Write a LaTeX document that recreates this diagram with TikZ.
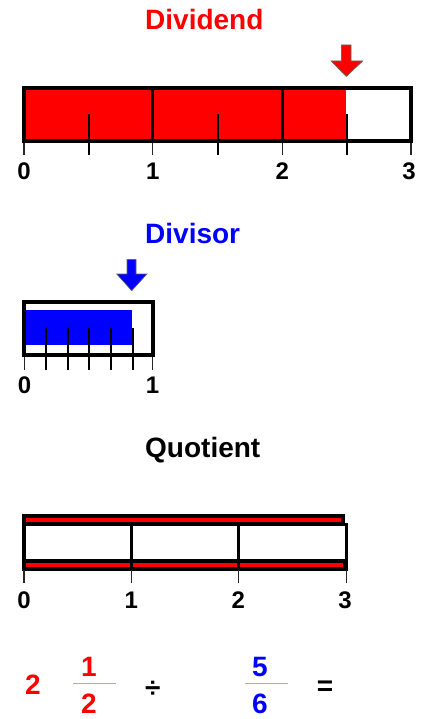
\documentclass[tikz,border=0pt]{standalone}
\usepackage{fontspec}
\setmainfont{Liberation Sans}
\definecolor{fracbar}{RGB}{180,176,160}
\definecolor{pred}{RGB}{255,0,0}
\definecolor{pblue}{RGB}{0,0,255}
\begin{document}
\begin{tikzpicture}[x=1pt,y=-1pt,
  title/.style={font=\fontsize{28}{30}\selectfont\bfseries, anchor=base west, inner sep=0pt},
  num/.style={font=\fontsize{24}{26}\selectfont\bfseries, anchor=base, inner sep=0pt},
  eqtxt/.style={font=\fontsize{28}{30}\selectfont\bfseries, anchor=base, inner sep=0pt},
  opsym/.style={font=\fontsize{28}{30}\selectfont\bfseries, anchor=center, inner sep=0pt},
  frameline/.style={line width=4pt},
  divline/.style={line width=3pt},
  halftick/.style={line width=2pt},
  ticks/.style={line width=1.5pt, black!85},
  arrowshape/.style={draw=black!60, line width=0.6pt, line join=miter},
  fbar/.style={draw=fracbar, line width=1.3pt}
]
\useasboundingbox (0,0) rectangle (423,719);

% ---------------- Dividend ----------------
\node[title, text=pred] (tdividend) at (145,30) {Dividend};
\fill[pred] (24,88) rectangle (346,141.3);
\draw[divline] (152.7,88) -- (152.7,141.3);
\draw[divline] (282.3,88) -- (282.3,141.3);
\foreach \x in {89,218,347} \draw[halftick] (\x,114) -- (\x,155.5);
\foreach \x in {24,152.7,282.3,410.8} \draw[ticks] (\x,141) -- (\x,155.5);
\draw[frameline] (23.9,88) rectangle (410.8,141.3);
\node[num] (d0) at (24,180) {0};
\node[num] (d1) at (152.7,180) {1};
\node[num] (d2) at (282.3,180) {2};
\node[num] (d3) at (409,180) {3};
\filldraw[arrowshape, fill=pred] (341.5,45) -- (351,45) -- (351,61) -- (362.7,61) -- (346.3,76.5) -- (331,61) -- (341.5,61) -- cycle;

% ---------------- Divisor ----------------
\node[title, text=pblue] (tdivisor) at (145,243) {Divisor};
\fill[pblue] (24,310) rectangle (131.7,345);
\foreach \x in {45.7,67.5,89.2,110.9,132.6} \draw[halftick] (\x,328) -- (\x,370);
\foreach \x in {24.3,152.5} \draw[ticks] (\x,355) -- (\x,370);
\draw[frameline] (24.3,302) rectangle (152.5,355.3);
\node[num] (v0) at (24.5,393) {0};
\node[num] (v1) at (152.5,393) {1};
\filldraw[arrowshape, fill=pblue] (127,259.5) -- (136,259.5) -- (136,274) -- (147,274) -- (131.7,290.7) -- (116.7,274) -- (127,274) -- cycle;

% ---------------- Quotient ----------------
\node[title, text=black] (tquotient) at (145,457) {Quotient};
\draw[frameline, fill=pred] (23.8,516.3) rectangle (343,523.7);
\draw[frameline, fill=pred] (23.8,561) rectangle (344.7,568.7);
\draw[frameline] (23.8,516) -- (23.8,569);
\draw[divline] (346.3,523) -- (346.3,570.7);
\draw[divline] (131.3,525) -- (131.3,570.7);
\draw[divline] (238.3,525) -- (238.3,570.7);
\foreach \x in {24,131.3,238.3,346.3} \draw[ticks] (\x,570) -- (\x,583);
\node[num] (q0) at (24,608.3) {0};
\node[num] (q1) at (131.3,608.3) {1};
\node[num] (q2) at (238.3,608.3) {2};
\node[num] (q3) at (345,608.3) {3};

% ---------------- Equation ----------------
\node[eqtxt, text=pred] (whole) at (33,694) {2};
\node[eqtxt, text=pred] (numa) at (89,676) {1};
\node[eqtxt, text=pred] (dena) at (89,713.5) {2};
\draw[fbar] (73,683.5) -- (116,683.5);
\node[opsym] (divsym) at (152.7,689) {÷};
\node[eqtxt, text=pblue] (numb) at (260,676) {5};
\node[eqtxt, text=pblue] (denb) at (260,713.5) {6};
\draw[fbar] (245,683.5) -- (287.7,683.5);
\node[opsym] (eqsym) at (325,688.5) {=};
\end{tikzpicture}
\end{document}
